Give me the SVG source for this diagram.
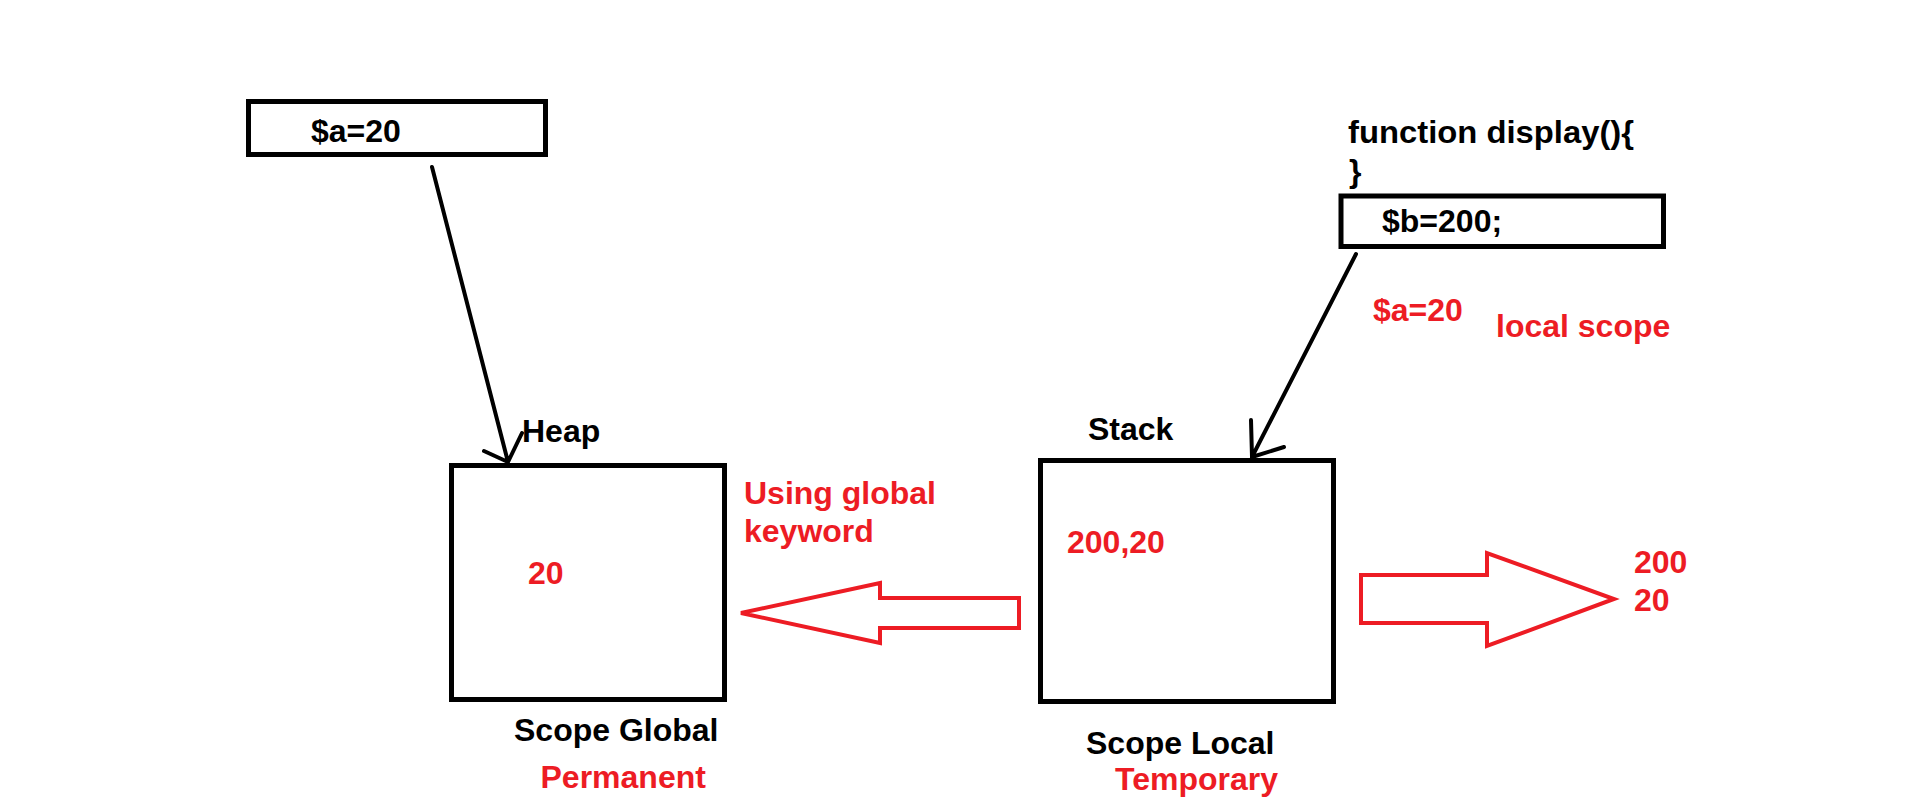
<svg xmlns="http://www.w3.org/2000/svg" width="1914" height="812" viewBox="0 0 1914 812">
<style>
.box{fill:none;stroke:#000;stroke-width:5}
.t{font-family:"Liberation Sans",Arial,sans-serif;font-weight:bold;font-size:32px;fill:#000}
.r{fill:#ED1C24}
.con{fill:none;stroke:#000;stroke-width:4;stroke-linecap:round;stroke-linejoin:round}
.big{fill:none;stroke:#ED1C24;stroke-width:4;stroke-linejoin:miter}
</style>
<rect width="1914" height="812" fill="#fff"/>
<g id="var-a">
<rect class="box" x="248.5" y="101.5" width="297" height="53"/>
<text class="t" x="311" y="142">$a=20</text>
</g>
<g id="func-display">
<text class="t" x="1348" y="143" textLength="286" lengthAdjust="spacingAndGlyphs">function display(){</text>
<text class="t" x="1349" y="182">}</text>
<rect class="box" x="1341" y="196" width="322.5" height="50.5"/>
<text class="t" x="1382" y="232">$b=200;</text>
</g>
<g id="heap">
<text class="t" x="522" y="442">Heap</text>
<rect class="box" x="451.5" y="465.5" width="273" height="234"/>
<text class="t r" x="528" y="584">20</text>
<text class="t" x="514" y="741">Scope Global</text>
<text class="t r" x="540.5" y="788">Permanent</text>
</g>
<g id="stack">
<text class="t" x="1088" y="440">Stack</text>
<rect class="box" x="1040.5" y="460.5" width="293" height="241"/>
<text class="t r" x="1067" y="553">200,20</text>
<text class="t" x="1086" y="754">Scope Local</text>
<text class="t r" x="1115" y="790">Temporary</text>
</g>
<g id="labels">
<text class="t r" x="1373" y="321">$a=20</text>
<text class="t r" x="1496" y="337">local scope</text>
<text class="t r" x="744" y="504">Using global</text>
<text class="t r" x="744" y="542">keyword</text>
<text class="t r" x="1634" y="573">200</text>
<text class="t r" x="1634" y="611">20</text>
</g>
<g id="connectors">
<path class="con" d="M432,167 L508,462 M484,451 L508,462 L522,433"/>
<path class="con" d="M1356,254 L1252,457 M1251,420 L1252,457 L1284,447"/>
<path class="big" d="M1019,598 L880,598 L880,583 L741,613 L880,643 L880,628 L1019,628 Z"/>
<path class="big" d="M1361,575 L1487,575 L1487,553 L1614,599 L1487,646 L1487,623 L1361,623 Z"/>
</g>
</svg>
